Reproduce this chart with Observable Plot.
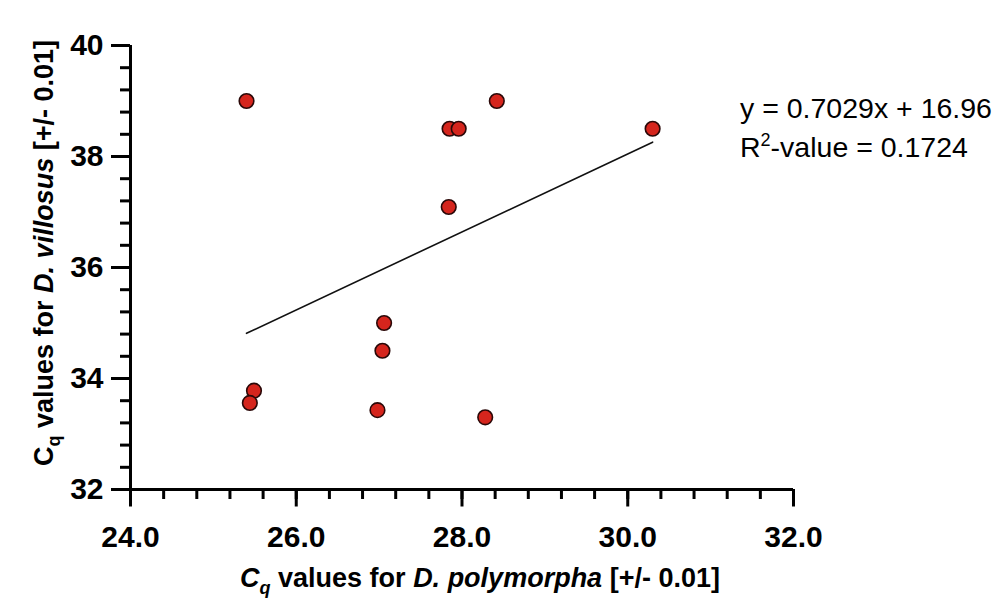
<!DOCTYPE html>
<html>
<head>
<meta charset="utf-8">
<script src="https://cdn.jsdelivr.net/npm/d3@7"></script>
<script src="https://cdn.jsdelivr.net/npm/@observablehq/plot@0.6"></script>
<style>
  html, body { margin: 0; padding: 0; background: #fff; }
  #chart svg { display: block; }
</style>
</head>
<body>
<div id="chart"></div>
<script>
// ---- data ----
const xPolymorpha = [25.40, 28.42, 27.85, 27.96, 30.30, 27.84, 27.06, 27.04, 25.49, 25.44, 26.98, 28.28];
const yVillosus   = [39.00, 39.00, 38.50, 38.50, 38.50, 37.09, 35.00, 34.50, 33.78, 33.56, 33.43, 33.30];
const fitSlope = 0.7029;
const fitIntercept = 16.96;
const fitLabel = "y = 0.7029x + 16.96";
const r2Value = "0.1724";
const xMajorTicks = [24, 26, 28, 30, 32];
const yMajorTicks = [32, 34, 36, 38, 40];
const xMinorTicks = d3.range(0, 21).map(i => 24 + i * 0.4);
const yMinorTicks = d3.range(0, 21).map(i => 32 + i * 0.4);

const points = xPolymorpha.map((x, i) => ({x, y: yVillosus[i]}));
const [x0, x1] = d3.extent(xPolymorpha);
const fitLine = [x0, x1].map(x => ({x, y: fitSlope * x + fitIntercept}));

const FONT = "'Liberation Sans', Arial, Helvetica, sans-serif";

const chart = Plot.plot({
  width: 1001,
  height: 599,
  marginLeft: 130,
  marginRight: 208,
  marginTop: 45,
  marginBottom: 110,
  style: {fontFamily: FONT, background: "#fff", color: "#000"},
  x: {domain: [24, 32], label: null},
  y: {domain: [32, 40], label: null},
  marks: [
    Plot.axisX({ticks: xMinorTicks, tickSize: 10, text: null, label: null, strokeWidth: 3, stroke: "#000"}),
    Plot.axisX({ticks: xMajorTicks, tickSize: 17.5, tickPadding: 18.5, strokeWidth: 3, stroke: "#000",
                tickFormat: d3.format(".1f"), fontSize: 30, fontWeight: "bold", fill: "#000", label: null}),
    Plot.axisY({ticks: yMinorTicks, tickSize: 10, text: null, label: null, strokeWidth: 3, stroke: "#000"}),
    Plot.axisY({ticks: yMajorTicks, tickSize: 19, tickPadding: 8, strokeWidth: 3, stroke: "#000",
                tickFormat: d3.format("d"), fontSize: 30, fontWeight: "bold", fill: "#000", label: null}),
    Plot.ruleY([32], {stroke: "#000", strokeWidth: 3}),
    Plot.ruleX([24], {stroke: "#000", strokeWidth: 3}),
    Plot.line(fitLine, {x: "x", y: "y", stroke: "#111", strokeWidth: 1.6}),
    Plot.dot(points, {x: "x", y: "y", r: 7.3, fill: "#d5251d", stroke: "#2a0808", strokeWidth: 1.6})
  ]
});

document.getElementById("chart").appendChild(chart);

const svg = d3.select(chart);

// x axis label
const xl = svg.append("text")
  .attr("x", 480).attr("y", 587)
  .attr("text-anchor", "middle")
  .attr("font-family", FONT).attr("font-size", 27).attr("font-weight", "bold").attr("fill", "#000");
xl.append("tspan").attr("font-style", "italic").text("C");
xl.append("tspan").attr("font-style", "italic").attr("font-size", 18).attr("dy", 7).text("q");
xl.append("tspan").attr("dy", -7).text(" values for ");
xl.append("tspan").attr("font-style", "italic").text("D. polymorpha");
xl.append("tspan").text(" [+/- 0.01]");

// y axis label
const yl = svg.append("text")
  .attr("transform", "translate(53,253) rotate(-90)")
  .attr("text-anchor", "middle")
  .attr("font-family", FONT).attr("font-size", 27).attr("font-weight", "bold").attr("fill", "#000");
yl.append("tspan").text("C");
yl.append("tspan").attr("font-size", 18).attr("dy", 7).text("q");
yl.append("tspan").attr("dy", -7).text(" values for ");
yl.append("tspan").attr("font-style", "italic").text("D. villosus");
yl.append("tspan").text(" [+/- 0.01]");

// regression annotation
svg.append("text")
  .attr("x", 740).attr("y", 118)
  .attr("text-anchor", "start")
  .attr("font-family", FONT).attr("font-size", 28.5).attr("fill", "#000")
  .text(fitLabel);
const r2 = svg.append("text")
  .attr("x", 740).attr("y", 157)
  .attr("text-anchor", "start")
  .attr("font-family", FONT).attr("font-size", 28.5).attr("fill", "#000");
r2.append("tspan").text("R");
r2.append("tspan").attr("font-size", 18).attr("dy", -11).text("2");
r2.append("tspan").attr("dy", 11).text("-value = " + r2Value);
</script>
</body>
</html>
